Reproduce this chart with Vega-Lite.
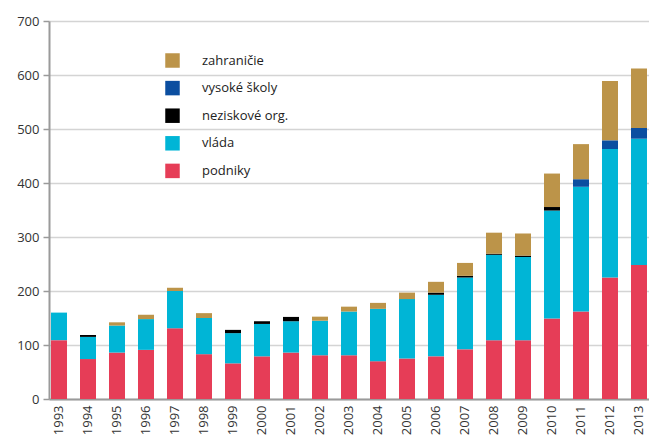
{
  "$schema": "https://vega.github.io/schema/vega-lite/v6.json",
  "autosize": {"type": "none"},
  "padding": {"left": 49, "top": 21, "right": 0, "bottom": 40},
  "width": 600,
  "height": 378,
  "background": "white",
  "config": {
    "view": {"stroke": null},
    "font": "Open Sans"
  },
  "data": {
    "values": [
      {"rok": "1993", "sektor": "podniky", "poradie": 1, "hodnota": 109},
      {"rok": "1993", "sektor": "vláda", "poradie": 2, "hodnota": 51},
      {"rok": "1994", "sektor": "podniky", "poradie": 1, "hodnota": 74},
      {"rok": "1994", "sektor": "vláda", "poradie": 2, "hodnota": 41},
      {"rok": "1994", "sektor": "neziskové org.", "poradie": 3, "hodnota": 3.5},
      {"rok": "1995", "sektor": "podniky", "poradie": 1, "hodnota": 86},
      {"rok": "1995", "sektor": "vláda", "poradie": 2, "hodnota": 50},
      {"rok": "1995", "sektor": "zahraničie", "poradie": 5, "hodnota": 6},
      {"rok": "1996", "sektor": "podniky", "poradie": 1, "hodnota": 91},
      {"rok": "1996", "sektor": "vláda", "poradie": 2, "hodnota": 57},
      {"rok": "1996", "sektor": "zahraničie", "poradie": 5, "hodnota": 8},
      {"rok": "1997", "sektor": "podniky", "poradie": 1, "hodnota": 131},
      {"rok": "1997", "sektor": "vláda", "poradie": 2, "hodnota": 69},
      {"rok": "1997", "sektor": "zahraničie", "poradie": 5, "hodnota": 6},
      {"rok": "1998", "sektor": "podniky", "poradie": 1, "hodnota": 83},
      {"rok": "1998", "sektor": "vláda", "poradie": 2, "hodnota": 67},
      {"rok": "1998", "sektor": "zahraničie", "poradie": 5, "hodnota": 9},
      {"rok": "1999", "sektor": "podniky", "poradie": 1, "hodnota": 66},
      {"rok": "1999", "sektor": "vláda", "poradie": 2, "hodnota": 56},
      {"rok": "1999", "sektor": "neziskové org.", "poradie": 3, "hodnota": 6},
      {"rok": "2000", "sektor": "podniky", "poradie": 1, "hodnota": 79},
      {"rok": "2000", "sektor": "vláda", "poradie": 2, "hodnota": 60},
      {"rok": "2000", "sektor": "neziskové org.", "poradie": 3, "hodnota": 5},
      {"rok": "2001", "sektor": "podniky", "poradie": 1, "hodnota": 86},
      {"rok": "2001", "sektor": "vláda", "poradie": 2, "hodnota": 58},
      {"rok": "2001", "sektor": "neziskové org.", "poradie": 3, "hodnota": 8},
      {"rok": "2002", "sektor": "podniky", "poradie": 1, "hodnota": 81},
      {"rok": "2002", "sektor": "vláda", "poradie": 2, "hodnota": 64},
      {"rok": "2002", "sektor": "zahraničie", "poradie": 5, "hodnota": 7.5},
      {"rok": "2003", "sektor": "podniky", "poradie": 1, "hodnota": 81},
      {"rok": "2003", "sektor": "vláda", "poradie": 2, "hodnota": 81},
      {"rok": "2003", "sektor": "zahraničie", "poradie": 5, "hodnota": 9},
      {"rok": "2004", "sektor": "podniky", "poradie": 1, "hodnota": 70},
      {"rok": "2004", "sektor": "vláda", "poradie": 2, "hodnota": 97},
      {"rok": "2004", "sektor": "zahraničie", "poradie": 5, "hodnota": 11},
      {"rok": "2005", "sektor": "podniky", "poradie": 1, "hodnota": 75},
      {"rok": "2005", "sektor": "vláda", "poradie": 2, "hodnota": 110},
      {"rok": "2005", "sektor": "zahraničie", "poradie": 5, "hodnota": 12},
      {"rok": "2006", "sektor": "podniky", "poradie": 1, "hodnota": 79},
      {"rok": "2006", "sektor": "vláda", "poradie": 2, "hodnota": 114},
      {"rok": "2006", "sektor": "neziskové org.", "poradie": 3, "hodnota": 4},
      {"rok": "2006", "sektor": "zahraničie", "poradie": 5, "hodnota": 20},
      {"rok": "2007", "sektor": "podniky", "poradie": 1, "hodnota": 92},
      {"rok": "2007", "sektor": "vláda", "poradie": 2, "hodnota": 133},
      {"rok": "2007", "sektor": "neziskové org.", "poradie": 3, "hodnota": 3},
      {"rok": "2007", "sektor": "zahraničie", "poradie": 5, "hodnota": 24},
      {"rok": "2008", "sektor": "podniky", "poradie": 1, "hodnota": 109},
      {"rok": "2008", "sektor": "vláda", "poradie": 2, "hodnota": 158},
      {"rok": "2008", "sektor": "neziskové org.", "poradie": 3, "hodnota": 2},
      {"rok": "2008", "sektor": "zahraničie", "poradie": 5, "hodnota": 39},
      {"rok": "2009", "sektor": "podniky", "poradie": 1, "hodnota": 109},
      {"rok": "2009", "sektor": "vláda", "poradie": 2, "hodnota": 154},
      {"rok": "2009", "sektor": "neziskové org.", "poradie": 3, "hodnota": 2.5},
      {"rok": "2009", "sektor": "zahraničie", "poradie": 5, "hodnota": 41},
      {"rok": "2010", "sektor": "podniky", "poradie": 1, "hodnota": 149},
      {"rok": "2010", "sektor": "vláda", "poradie": 2, "hodnota": 200},
      {"rok": "2010", "sektor": "neziskové org.", "poradie": 3, "hodnota": 6.5},
      {"rok": "2010", "sektor": "zahraničie", "poradie": 5, "hodnota": 62},
      {"rok": "2011", "sektor": "podniky", "poradie": 1, "hodnota": 162},
      {"rok": "2011", "sektor": "vláda", "poradie": 2, "hodnota": 231},
      {"rok": "2011", "sektor": "vysoké školy", "poradie": 4, "hodnota": 14},
      {"rok": "2011", "sektor": "zahraničie", "poradie": 5, "hodnota": 65},
      {"rok": "2012", "sektor": "podniky", "poradie": 1, "hodnota": 225},
      {"rok": "2012", "sektor": "vláda", "poradie": 2, "hodnota": 238},
      {"rok": "2012", "sektor": "vysoké školy", "poradie": 4, "hodnota": 16},
      {"rok": "2012", "sektor": "zahraničie", "poradie": 5, "hodnota": 110},
      {"rok": "2013", "sektor": "podniky", "poradie": 1, "hodnota": 248},
      {"rok": "2013", "sektor": "vláda", "poradie": 2, "hodnota": 234},
      {"rok": "2013", "sektor": "vysoké školy", "poradie": 4, "hodnota": 20},
      {"rok": "2013", "sektor": "zahraničie", "poradie": 5, "hodnota": 110}
    ]
  },
  "mark": {"type": "bar", "width": 16},
  "encoding": {
    "x": {
      "field": "rok",
      "type": "ordinal",
      "title": null,
      "scale": {"paddingInner": 0.45, "paddingOuter": 0.07},
      "axis": {
        "labelAngle": -90,
        "labelAlign": "right",
        "labelBaseline": "middle",
        "labelFontSize": 13,
        "labelColor": "#333333",
        "labelPadding": 6,
        "ticks": false,
        "domainColor": "#9a9a9a",
        "domainWidth": 2
      }
    },
    "y": {
      "field": "hodnota",
      "type": "quantitative",
      "aggregate": "sum",
      "stack": "zero",
      "title": null,
      "scale": {"domain": [0, 700], "nice": false},
      "axis": {
        "values": [0, 100, 200, 300, 400, 500, 600, 700],
        "labelFontSize": 13,
        "labelColor": "#333333",
        "labelPadding": 4,
        "tickSize": 6,
        "tickColor": "#9a9a9a",
        "tickWidth": 1.5,
        "domainColor": "#9a9a9a",
        "domainWidth": 2,
        "gridColor": "#d4d4d4",
        "gridWidth": 1.5
      }
    },
    "color": {
      "field": "sektor",
      "type": "nominal",
      "scale": {
        "domain": ["zahraničie", "vysoké školy", "neziskové org.", "vláda", "podniky"],
        "range": ["#BC9449", "#0B4EA0", "#000000", "#00B5D6", "#E63D57"]
      },
      "legend": {
        "title": null,
        "orient": "none",
        "legendX": 116,
        "legendY": 32,
        "symbolType": "square",
        "symbolSize": 210,
        "symbolStrokeWidth": 0,
        "labelFontSize": 13,
        "labelColor": "#222222",
        "labelOffset": 22,
        "rowPadding": 12.6,
        "labelLimit": 200
      }
    },
    "order": {"field": "poradie", "type": "quantitative", "sort": "ascending"}
  }
}
